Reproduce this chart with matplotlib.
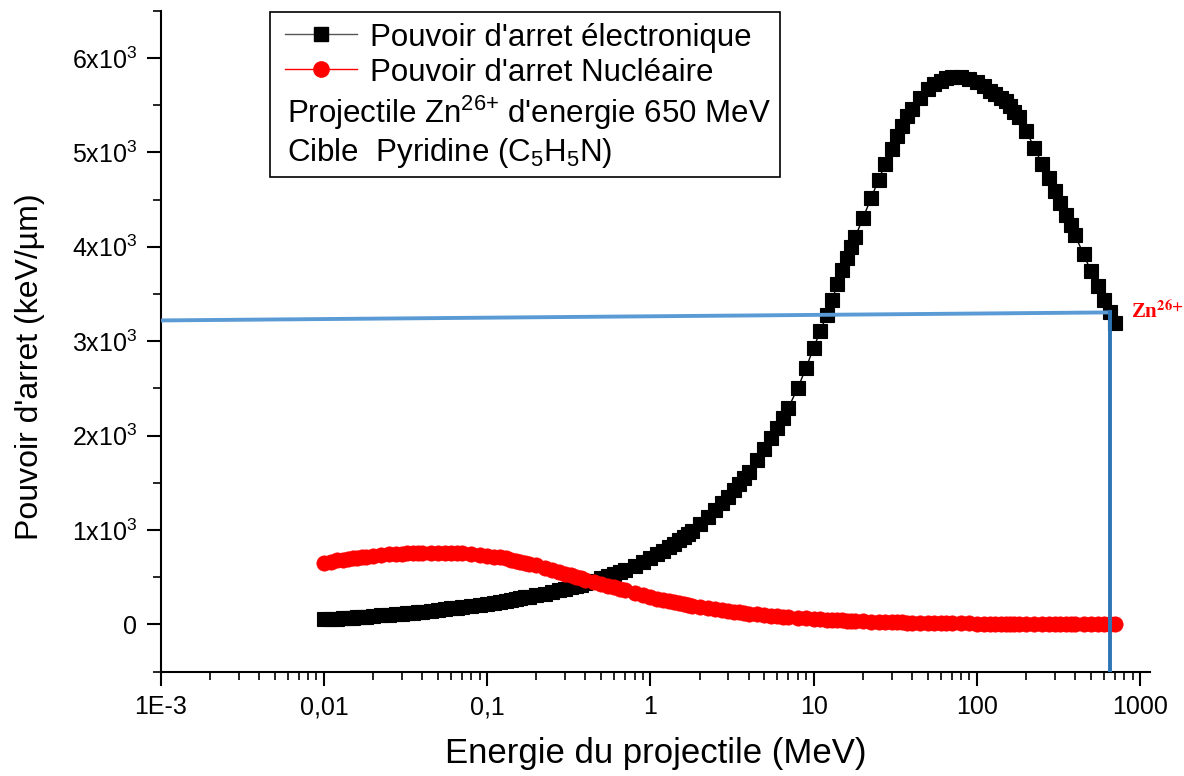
import matplotlib
matplotlib.use('Agg')
import matplotlib.pyplot as plt
from matplotlib.patches import Rectangle
from matplotlib.ticker import LogLocator, NullFormatter, MultipleLocator

plt.rcParams['font.family'] = ['Liberation Sans', 'DejaVu Sans']
plt.rcParams['mathtext.fontset'] = 'custom'
plt.rcParams['mathtext.rm'] = 'Liberation Sans'
plt.rcParams['mathtext.it'] = 'Liberation Sans:italic'
plt.rcParams['mathtext.bf'] = 'Liberation Sans:bold'

# SRIM energy grid (MeV)
energy_mev = [
    0.010, 0.011, 0.012, 0.013, 0.014, 0.015, 0.016, 0.017, 0.018, 0.020, 0.0225, 0.025, 0.0275,
    0.030, 0.0325, 0.035, 0.0375, 0.040, 0.045, 0.050, 0.055, 0.060, 0.065, 0.070, 0.080, 0.090,
    0.10, 0.11, 0.12, 0.13, 0.14, 0.15, 0.16, 0.17, 0.18, 0.20, 0.225, 0.25, 0.275,
    0.30, 0.325, 0.35, 0.375, 0.40, 0.45, 0.50, 0.55, 0.60, 0.65, 0.70, 0.80, 0.90,
    1.0, 1.1, 1.2, 1.3, 1.4, 1.5, 1.6, 1.7, 1.8, 2.0, 2.25, 2.5, 2.75,
    3.0, 3.25, 3.5, 3.75, 4.0, 4.5, 5.0, 5.5, 6.0, 6.5, 7.0, 8.0, 9.0,
    10, 11, 12, 13, 14, 15, 16, 17, 18, 20, 22.5, 25, 27.5,
    30, 32.5, 35, 37.5, 40, 45, 50, 55, 60, 65, 70, 80, 90,
    100, 110, 120, 130, 140, 150, 160, 170, 180, 200, 225, 250, 275,
    300, 325, 350, 375, 400, 450, 500, 550, 600, 650, 700,
]

# electronic stopping power (keV/um)
s_elec = [
    55, 59, 63, 67, 71, 74, 77, 80, 83, 89, 96, 103, 109,
    115, 121, 126, 131, 136, 145, 154, 162, 170, 177, 184, 197, 209,
    221, 232, 242, 252, 261, 270, 279, 287, 295, 310, 328, 346, 363,
    379, 394, 409, 423, 437, 463, 488, 512, 535, 557, 578, 618, 657,
    700, 742, 782, 820, 857, 893, 928, 962, 995, 1060, 1138, 1213, 1285,
    1355, 1423, 1489, 1553, 1616, 1740, 1860, 1975, 2085, 2190, 2295, 2505, 2720,
    2930, 3110, 3275, 3440, 3605, 3750, 3880, 3995, 4105, 4300, 4520, 4710, 4880,
    5040, 5170, 5280, 5380, 5455, 5580, 5670, 5725, 5760, 5785, 5795, 5800, 5780,
    5745, 5700, 5655, 5615, 5580, 5540, 5490, 5430, 5370, 5230, 5050, 4880, 4730,
    4590, 4460, 4340, 4230, 4120, 3920, 3740, 3580, 3440, 3310, 3190,
]

# nuclear stopping power (keV/um)
s_nucl = [
    655, 667, 678, 688, 696, 703, 709, 714, 719, 727, 735, 742, 747,
    751, 754, 757, 759, 760, 762, 762, 761, 759, 756, 753, 746, 738,
    729, 720, 710, 699, 688, 677, 666, 655, 645, 625, 602, 580, 559,
    540, 522, 505, 489, 474, 451, 430, 410, 392, 376, 361, 335, 312,
    292, 275, 260, 247, 235, 225, 216, 208, 200, 187, 173, 161, 151,
    142, 134, 127, 121, 115, 106, 98, 92, 86, 81, 77, 70, 64,
    59, 55, 51, 48, 45, 43, 41, 39, 37, 34, 31, 29, 27,
    25, 23, 22, 21, 20, 18, 17, 16, 15, 14, 13, 12, 11,
    10, 9.3, 8.7, 8.2, 7.7, 7.3, 6.9, 6.6, 6.3, 5.8, 5.3, 4.9, 4.5,
    4.2, 4.0, 3.7, 3.5, 3.4, 3.1, 2.8, 2.6, 2.4, 2.2, 2.1,
]

# hand drawn guide lines at 650 MeV
guide_h_x = [1e-3, 650]
guide_h_y = [3220, 3305]
guide_v_x = [650, 650]
guide_v_y = [3305, -500]

x_ticks = [1e-3, 1e-2, 1e-1, 1, 10, 100, 1000]
x_tick_labels = ['1E-3', '0,01', '0,1', '1', '10', '100', '1000']
y_ticks = [0, 1000, 2000, 3000, 4000, 5000, 6000]
y_tick_labels = ['0'] + ['%dx10$^{3}$' % k for k in range(1, 7)]

fig = plt.figure(figsize=(11.84, 7.76), dpi=100)
ax = fig.add_axes([0.1357, 0.1344, 0.8356, 0.8518])

ax.plot(energy_mev, s_elec, '-s', color='black', lw=1, ms=10, mew=0.8, zorder=3)
ax.plot(energy_mev, s_nucl, '-o', color='red', lw=1, ms=11, mew=0.5, zorder=4)
ax.plot(guide_h_x, guide_h_y, color='#5b9bd5', lw=2.8, zorder=5)
ax.plot(guide_v_x, guide_v_y, color='#2e75b6', lw=2.8, zorder=5)

ax.text(880, 3300, r'Zn$^{\mathbf{26{+}}}$', color='red', fontsize=15, fontweight='bold',
        family=['Liberation Serif', 'DejaVu Serif'], math_fontfamily='stix',
        ha='left', va='center')

ax.set_xscale('log')
ax.set_xlim(1e-3, 1.15e3)
ax.set_ylim(-500, 6500)
ax.set_xticks(x_ticks)
ax.set_xticklabels(x_tick_labels)
ax.xaxis.set_minor_locator(LogLocator(base=10, subs=range(2, 10), numticks=20))
ax.xaxis.set_minor_formatter(NullFormatter())
ax.set_yticks(y_ticks)
ax.set_yticklabels(y_tick_labels)
ax.yaxis.set_minor_locator(MultipleLocator(500))

for side in ['top', 'right']:
    ax.spines[side].set_visible(False)
for side in ['left', 'bottom']:
    ax.spines[side].set_linewidth(1.5)

ax.tick_params(which='major', direction='out', length=10, width=1.5, labelsize=18, pad=7)
ax.tick_params(which='minor', direction='out', length=5.5, width=1.2)

ax.set_xlabel('Energie du projectile (MeV)', fontsize=25)
ax.set_ylabel("Pouvoir d'arret (keV/µm)", fontsize=23)
ax.xaxis.set_label_coords(0.5, -0.099)
ax.yaxis.set_label_coords(-0.117, 0.461)

# legend box drawn by hand (two series + two text lines)
ax.add_patch(Rectangle((0.1105, 0.748), 0.5155, 0.25, transform=ax.transAxes,
                       fill=False, edgecolor='black', lw=1.2, zorder=6, clip_on=False))
ax.plot([0.1257, 0.1985], [0.9647, 0.9647], '-', color='#555555', lw=1, transform=ax.transAxes, zorder=6)
ax.plot([0.162], [0.9647], 's', color='black', ms=10, transform=ax.transAxes, zorder=7)
ax.plot([0.1257, 0.1985], [0.9117, 0.9117], '-', color='red', lw=1, transform=ax.transAxes, zorder=6)
ax.plot([0.162], [0.9117], 'o', color='red', ms=11, transform=ax.transAxes, zorder=7)

leg_size = 22.5
ax.text(0.2115, 0.9647, "Pouvoir d'arret électronique", transform=ax.transAxes,
        fontsize=leg_size, va='center_baseline', ha='left')
ax.text(0.2115, 0.9117, "Pouvoir d'arret Nucléaire", transform=ax.transAxes,
        fontsize=leg_size, va='center_baseline', ha='left')
ax.text(0.1277, 0.8527, "Projectile Zn$^{26{+}}$ d'energie 650 MeV", transform=ax.transAxes,
        fontsize=leg_size, va='center_baseline', ha='left')
ax.text(0.1277, 0.792, "Cible  Pyridine (C$_5$H$_5$N)", transform=ax.transAxes,
        fontsize=leg_size, va='center_baseline', ha='left')

fig.savefig('out.png', dpi=100)
